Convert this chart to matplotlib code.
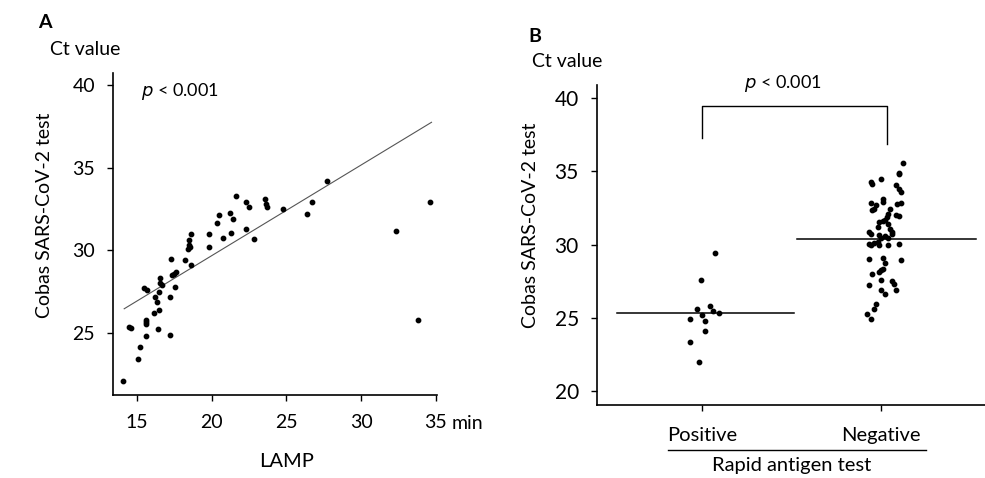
"""Ct value of Cobas SARS-CoV-2 test vs LAMP time (A) and vs rapid antigen test result (B)."""

import matplotlib
matplotlib.use('Agg')
import matplotlib.pyplot as plt
import matplotlib.transforms as mtransforms

plt.rcParams['font.family'] = ['Lato', 'DejaVu Sans']

# ---- panel A data: LAMP time (min) vs Ct value
lamp_min = [14.06, 14.45, 14.6, 15.07, 15.2, 15.45, 15.6, 15.6, 15.62, 15.64,
            15.67, 16.16, 16.23, 16.34, 16.45, 16.38, 16.47, 16.52, 16.56, 16.67,
            17.19, 17.19, 17.28, 17.35, 17.46, 17.6, 17.57, 18.24, 18.4, 18.5,
            18.6, 18.5, 18.55, 18.6, 19.8, 19.8, 20.36, 20.5, 20.76, 21.25,
            21.4, 21.32, 21.65, 22.32, 22.32, 22.52, 22.86, 23.55, 23.65, 23.7,
            24.75, 26.38, 26.72, 27.72, 32.34, 33.8, 34.58]
ct_lamp = [22.08, 25.36, 25.3, 23.4, 24.15, 27.7, 24.85, 25.8, 25.65, 25.55,
           27.6, 26.2, 27.2, 26.9, 26.4, 25.25, 27.5, 28.0, 28.3, 27.9,
           24.9, 27.2, 29.5, 28.5, 28.6, 28.7, 27.8, 29.4, 30.1, 30.3,
           31.0, 30.6, 30.2, 29.1, 31.0, 30.2, 31.65, 32.15, 30.77, 32.26,
           31.9, 31.05, 33.3, 32.9, 31.3, 32.6, 30.7, 33.1, 32.8, 32.6,
           32.5, 32.2, 32.9, 34.2, 31.2, 25.8, 32.9]
# regression line as printed: slope, intercept and x range
fit_slope = 0.549
fit_intercept = 18.7
fit_range = [14.15, 34.7]

# ---- panel B data: Ct value by rapid antigen test result
groups = ['Positive', 'Negative']
pos_x = [0.07, -0.01, -0.03, 0.04, 0.06, 0.095, -0.07, 0.0, 0.015, 0.015, -0.07, -0.018]
pos_ct = [29.45, 27.56, 25.6, 25.8, 25.45, 25.3, 24.9, 25.15, 24.75, 24.07, 23.34, 21.97]
neg_x = [1.12, 1.10, 1.10, 0.94, 0.95, 1.0, 1.08, 1.10, 1.11, 0.94,
         0.97, 0.95, 0.96, 1.01, 1.01, 1.09, 1.11, 1.05, 1.04, 1.03,
         1.08, 1.10, 0.99, 1.01, 1.02, 1.04, 1.05, 1.06, 0.98, 0.93,
         0.94, 0.99, 1.0, 1.02, 1.04, 1.06, 0.94, 0.93, 0.96, 0.98,
         0.99, 1.04, 1.10, 0.93, 1.01, 1.02, 1.11, 0.95, 0.99, 1.0,
         1.01, 1.0, 1.06, 1.07, 1.08, 0.93, 1.0, 1.02, 0.97, 0.96,
         0.92, 0.94]
neg_ct = [35.54, 34.9, 34.8, 34.28, 34.17, 34.45, 34.06, 33.83, 33.6, 32.85,
          32.69, 32.35, 32.46, 33.08, 32.9, 32.8, 32.85, 32.4, 32.12, 31.89,
          32.0, 31.94, 31.55, 31.6, 31.66, 31.39, 31.09, 30.86, 31.2, 30.86,
          30.75, 30.64, 30.48, 30.57, 30.48, 30.7, 30.0, 30.02, 30.1, 30.18,
          29.98, 29.95, 30.07, 29.04, 29.11, 28.74, 28.97, 28.0, 28.13, 28.24,
          28.36, 27.55, 27.51, 27.33, 26.92, 27.26, 26.87, 26.6, 25.96, 25.62,
          25.28, 24.94]
pos_mean, pos_span = 25.3, [-0.48, 0.51]
neg_mean, neg_span = 30.35, [0.53, 1.53]
bracket_y = [37.25, 39.46, 39.46, 36.9]

fig = plt.figure(figsize=(9.85, 4.78), dpi=100)

# ================= A
axA = fig.add_axes([0.1147, 0.1736, 0.329, 0.6736])
axA.scatter(lamp_min, ct_lamp, s=10, color='black', zorder=3)
fx = fit_range
axA.plot(fx, [fit_slope * v + fit_intercept for v in fx], color='#555555', lw=0.8)
axA.set_xlim(13.4, 35.07)
axA.set_ylim(21.25, 40.73)
axA.set_xticks([15, 20, 25, 30, 35])
axA.set_yticks([25, 30, 35, 40])
axA.text(15.3, 39.6, r'$p$ < 0.001', fontsize=13, va='center', ha='left')
transA = mtransforms.blended_transform_factory(axA.transData, axA.transAxes)
axA.text(36.07, -0.087, 'min', fontsize=14, va='center', ha='left',
         transform=transA)
axA.set_xlabel('LAMP', fontsize=14.5)
axA.xaxis.set_label_coords(0.537, -0.18)
axA.set_ylabel('Cobas SARS-CoV-2 test', fontsize=14)
axA.yaxis.set_label_coords(-0.185, 0.559)
fig.text(0.039, 0.941, 'A', fontsize=14, fontweight='bold')
fig.text(0.051, 0.885, 'Ct value', fontsize=14)

# ================= B
axB = fig.add_axes([0.606, 0.153, 0.394, 0.669])
axB.scatter(pos_x, pos_ct, s=10, color='black', zorder=3)
axB.scatter(neg_x, neg_ct, s=10, color='black', zorder=3)
axB.plot(pos_span, [pos_mean, pos_mean], color='black', lw=1.1)
axB.plot(neg_span, [neg_mean, neg_mean], color='black', lw=1.1)
axB.plot([0, 0, 1.03, 1.03], bracket_y, color='black', lw=1.0)
axB.text(0.45, 41.0, r'$p$ < 0.001', fontsize=13, ha='center', va='center')
axB.set_xlim(-0.59, 1.58)
axB.set_ylim(19.04, 40.9)
axB.set_yticks([20, 25, 30, 35, 40])
axB.set_xticks([0, 1])
axB.set_xticklabels(groups)
axB.set_ylabel('Cobas SARS-CoV-2 test', fontsize=14)
axB.yaxis.set_label_coords(-0.15, 0.5625)
axB.set_xlabel('Rapid antigen test', fontsize=14.5)
axB.xaxis.set_label_coords(0.503, -0.162)
transB = mtransforms.blended_transform_factory(axB.transData, axB.transAxes)
axB.plot([-0.19, 1.25], [-0.14, -0.14], color='black', lw=1.0,
         transform=transB, clip_on=False)
fig.text(0.536, 0.912, 'B', fontsize=14, fontweight='bold')
fig.text(0.540, 0.860, 'Ct value', fontsize=14)

for ax in (axA, axB):
    for side in ('top', 'right'):
        ax.spines[side].set_visible(False)
    for side in ('left', 'bottom'):
        ax.spines[side].set_linewidth(1.2)
    ax.tick_params(direction='out', length=4, width=1, labelsize=14, pad=7)
axA.tick_params(axis='x', pad=10)
axA.tick_params(axis='y', pad=9)
axB.tick_params(axis='y', pad=9, labelsize=15)
axB.tick_params(axis='x', pad=12, labelsize=14.5)

fig.savefig('out.png', dpi=100)
